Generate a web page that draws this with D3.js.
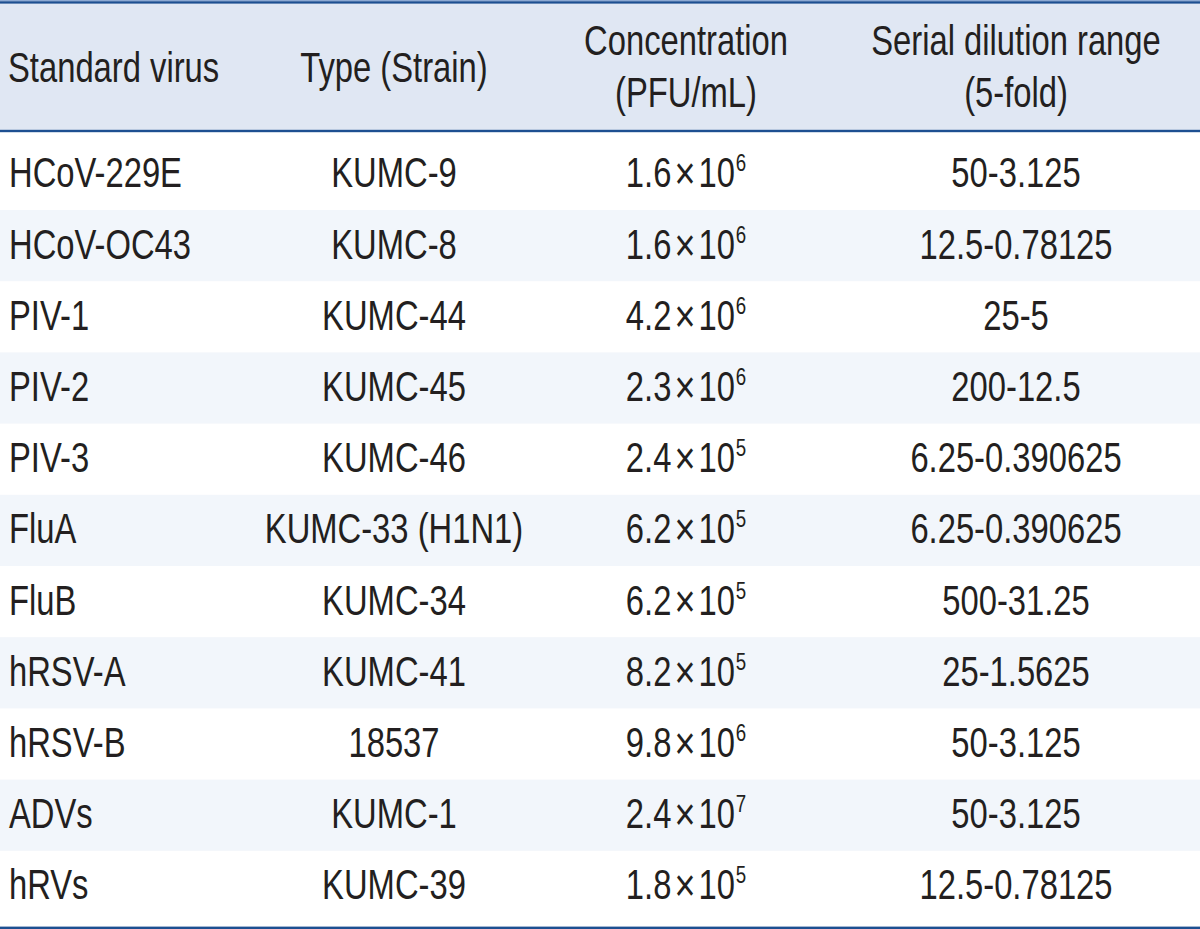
<!DOCTYPE html>
<html>
<head>
<meta charset="utf-8">
<script src="https://cdn.jsdelivr.net/npm/d3@7"></script>
<style>
  html, body { margin: 0; padding: 0; background: #ffffff; }
  svg text { font-family: 'Liberation Sans', Arial, sans-serif; fill: #231f20; }
</style>
</head>
<body>
<svg id="chart" width="1200" height="929"></svg>
<script>
// ---- data ----
const headerLines = [
  ["Standard virus"],
  ["Type (Strain)"],
  ["Concentration", "(PFU/mL)"],
  ["Serial dilution range", "(5-fold)"]
];
const viruses = ["HCoV-229E", "HCoV-OC43", "PIV-1", "PIV-2", "PIV-3", "FluA", "FluB", "hRSV-A", "hRSV-B", "ADVs", "hRVs"];
const strains = ["KUMC-9", "KUMC-8", "KUMC-44", "KUMC-45", "KUMC-46", "KUMC-33 (H1N1)", "KUMC-34", "KUMC-41", "18537", "KUMC-1", "KUMC-39"];
const concMantissa = ["1.6", "1.6", "4.2", "2.3", "2.4", "6.2", "6.2", "8.2", "9.8", "2.4", "1.8"];
const concExponent = ["6", "6", "6", "6", "5", "5", "5", "5", "6", "7", "5"];
const dilutionRange = ["50-3.125", "12.5-0.78125", "25-5", "200-12.5", "6.25-0.390625", "6.25-0.390625", "500-31.25", "25-1.5625", "50-3.125", "50-3.125", "12.5-0.78125"];

// ---- layout ----
const W = 1200, H = 929;
const svg = d3.select("#chart");
const lineColor = "#1d4f91";
const headerBg = "#e0e7f3";
const stripeBg = "#f2f6fb";
const fontSize = 42;
const sx = 0.78; // horizontal condensing of the font

const rows = viruses.map((v, i) => ({
  virus: v, strain: strains[i], mant: concMantissa[i], exp: concExponent[i], dil: dilutionRange[i], i
}));

const y = d3.scaleBand().domain(d3.range(rows.length)).range([138.8, 138.8 + 71.2 * rows.length]).paddingInner(0).paddingOuter(0);

// header background
svg.append("rect").attr("x", 0).attr("y", 0).attr("width", W).attr("height", 131).attr("fill", headerBg);

// stripes
svg.selectAll("rect.stripe").data(rows.filter(d => d.i % 2 === 1)).join("rect")
  .attr("class", "stripe")
  .attr("x", 0).attr("width", W)
  .attr("y", d => y(d.i)).attr("height", y.bandwidth())
  .attr("fill", stripeBg);

// rules
svg.append("rect").attr("x", 0).attr("y", 0.3).attr("width", W).attr("height", 1).attr("fill", "#6a8fc4");
svg.append("rect").attr("x", 0).attr("y", 1.3).attr("width", W).attr("height", 2.3).attr("fill", lineColor);
svg.append("rect").attr("x", 0).attr("y", 129.8).attr("width", W).attr("height", 2.4).attr("fill", lineColor);
svg.append("rect").attr("x", 0).attr("y", 926.6).attr("width", W).attr("height", 2.4).attr("fill", lineColor);

// column definitions
const cols = [
  { x: 8, anchor: "start" },
  { x: 394, anchor: "middle" },
  { x: 686, anchor: "middle" },
  { x: 1016, anchor: "middle" }
];

function place(sel, x, yy) {
  return sel.attr("transform", `translate(${x},${yy}) scale(${sx},1)`);
}

// header text
const hdr = svg.append("g").attr("class", "header");
headerLines.forEach((lines, c) => {
  const baselines = lines.length === 1 ? [82] : [55, 107];
  lines.forEach((t, k) => {
    place(hdr.append("text"), cols[c].x, baselines[k])
      .attr("text-anchor", cols[c].anchor)
      .attr("font-size", fontSize)
      .text(t);
  });
});

// body text
const body = svg.append("g").attr("class", "body");
const rowG = body.selectAll("g.row").data(rows).join("g").attr("class", "row")
  .attr("transform", d => `translate(0,${y(d.i) + 48.5})`);

place(rowG.append("text"), cols[0].x + 1, 0).attr("text-anchor", "start").attr("font-size", fontSize).text(d => d.virus);
place(rowG.append("text"), cols[1].x, 0).attr("text-anchor", "middle").attr("font-size", fontSize).text(d => d.strain);

const conc = place(rowG.append("text"), cols[2].x, 0).attr("text-anchor", "middle").attr("font-size", fontSize);
conc.append("tspan").text(d => d.mant);
conc.append("tspan").attr("dx", 4).attr("dy", 2).attr("font-size", 46).attr("font-weight", 300).text("×");
conc.append("tspan").attr("dx", 4).attr("dy", -2).text("10");
conc.append("tspan").attr("dx", 1).attr("dy", -16).attr("font-size", 24).text(d => d.exp);

place(rowG.append("text"), cols[3].x, 0).attr("text-anchor", "middle").attr("font-size", fontSize).text(d => d.dil);
</script>
</body>
</html>
